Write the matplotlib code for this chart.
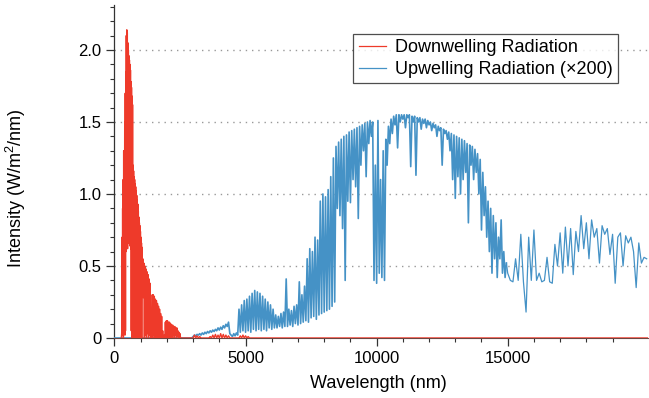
import numpy as np
import matplotlib
matplotlib.use('Agg')
import matplotlib.pyplot as plt
from matplotlib.ticker import MultipleLocator, FixedLocator

plt.rcParams['font.family'] = ['Liberation Sans', 'DejaVu Sans']
plt.rcParams['mathtext.fontset'] = 'custom'
plt.rcParams['mathtext.rm'] = 'Liberation Sans'

#colors
red = '#ee3a2a'
blue = '#4592c6'

#downwelling radiation, 10 nm steps from 260 nm
down_a = [0.0, 0.02, 0.05, 0.7, 0.02, 0.9, 0.05, 1.1, 0.0, 1.3,
          0.1, 0.75, 0.58, 1.5, 0.02, 1.7, 0.05, 1.85, 0.6, 2.1,
          0.65, 2.14, 0.7, 2.12, 0.62, 2.05, 0.7, 2.0, 0.66, 1.96,
          0.7, 1.93, 0.64, 1.9, 0.68, 1.86, 0.62, 1.78, 0.05, 1.74,
          0.0, 1.68, 0.02, 1.62, 0.0, 1.2, 0.03, 1.16, 0.0, 1.12,
          0.4, 1.1, 0.02, 1.07, 0.0, 1.05, 0.03, 1.02, 0.0, 0.99,
          0.02, 0.96, 0.0, 0.93, 0.05, 0.88, 0.0, 0.84, 0.02, 0.8,
          0.0, 0.78, 0.03, 0.74, 0.0, 0.7, 0.02, 0.66, 0.0, 0.63]
#20 nm steps from 1060 nm
down_b = [0.3, 0.55, 0.28, 0.52, 0.0, 0.5, 0.02, 0.48, 0.0, 0.46,
          0.03, 0.44, 0.0, 0.41, 0.02, 0.38, 0.0, 0.01, 0.0, 0.3,
          0.0, 0.3, 0.02, 0.29, 0.0, 0.27, 0.03, 0.26, 0.0, 0.24,
          0.12, 0.22, 0.0, 0.2, 0.02, 0.17, 0.0, 0.15, 0.0, 0.05,
          0.0, 0.01, 0.02, 0.0, 0.11, 0.0, 0.12, 0.02, 0.12, 0.0,
          0.11, 0.02, 0.11, 0.0, 0.1, 0.03, 0.09, 0.0, 0.09, 0.02,
          0.08, 0.0, 0.08, 0.02, 0.07, 0.0, 0.07, 0.01, 0.05, 0.0,
          0.04, 0.0, 0.03, 0.0, 0.0]
#50 nm steps from 2550 nm
down_c = [0.0, 0.0, 0.0, 0.0, 0.0, 0.0, 0.0, 0.0, 0.0, 0.0,
          0.02, 0.0, 0.015, 0.0, 0.01, 0.0, 0.0, 0.0, 0.0, 0.0,
          0.0, 0.0, 0.01, 0.0, 0.02, 0.0, 0.025, 0.0, 0.02, 0.0,
          0.03, 0.0, 0.025, 0.0, 0.02, 0.0, 0.015, 0.0, 0.0, 0.0,
          0.0, 0.0, 0.0, 0.0, 0.0, 0.015, 0.0, 0.02, 0.0, 0.015,
          0.0, 0.01, 0.0, 0.0, 0.0, 0.0, 0.0, 0.0, 0.0, 0.0]

#upwelling radiation (x200), 50 nm steps from 3000 nm
up_a = [0.01, 0.02, 0.015, 0.025, 0.02, 0.03, 0.02, 0.035, 0.025, 0.04,
        0.03, 0.045, 0.035, 0.05, 0.04, 0.055, 0.045, 0.06, 0.05, 0.07,
        0.055, 0.075, 0.06, 0.085, 0.07, 0.095, 0.08, 0.11, 0.03, 0.02,
        0.01, 0.03, 0.015, 0.035, 0.02, 0.2, 0.04, 0.23, 0.05, 0.26,
        0.04, 0.27, 0.05, 0.29, 0.04, 0.31, 0.06, 0.33, 0.05, 0.32,
        0.06, 0.31, 0.05, 0.29, 0.06, 0.27, 0.05, 0.25, 0.07, 0.23,
        0.06, 0.2, 0.07, 0.16, 0.07, 0.15, 0.08, 0.17, 0.07, 0.18,
        0.08, 0.41, 0.08, 0.2, 0.09, 0.19, 0.08, 0.22, 0.1, 0.23,
        0.09, 0.39, 0.1, 0.3, 0.11, 0.36, 0.12, 0.55, 0.11, 0.62,
        0.14, 0.6, 0.15, 0.7, 0.13, 0.68, 0.16, 0.95, 0.17, 1.0,
        0.18, 0.98, 0.19, 1.03, 0.2, 1.12, 0.22, 1.25, 0.25, 1.33,
        0.9, 1.36, 0.85, 1.38, 0.76, 1.4, 0.4, 1.41, 0.95, 1.43,
        0.94, 1.44, 1.1, 1.45, 1.05, 1.46, 0.83, 1.47, 1.2, 1.48,
        1.3, 1.49, 1.12, 1.5, 1.35, 1.51, 1.4, 1.5, 0.4, 1.2,
        0.38, 1.51, 0.45, 1.1, 0.42, 1.3, 0.4, 1.38, 1.2, 1.47,
        1.35, 1.52, 1.42, 1.54, 1.48, 1.55, 1.32, 1.55, 1.5, 1.55,
        1.52, 1.55, 1.46, 1.55, 1.53, 1.55, 1.19, 1.54, 1.5, 1.54,
        1.13, 1.53, 1.5, 1.53, 1.45, 1.52, 1.49, 1.52, 1.46, 1.51,
        1.48, 1.5, 1.44, 1.49, 1.46, 1.48, 1.4, 1.47, 1.44, 1.46,
        1.2, 1.45, 1.42, 1.44, 1.38, 1.43, 1.3, 1.42, 1.1, 1.41,
        0.97, 1.4, 1.12, 1.39, 1.0, 1.38, 1.1, 1.37, 1.15, 1.35,
        0.8, 1.34, 1.2, 1.33, 1.1, 1.31, 1.15, 1.28, 1.0, 1.24,
        0.75, 1.15, 0.85, 1.05, 0.7, 0.95, 0.6, 0.9, 0.45, 0.85,
        0.55, 0.8, 0.42, 0.7, 0.55, 0.82, 0.45, 0.6, 0.42, 0.52]
#100 nm steps from 15000 nm
up_b = [0.45, 0.4, 0.39, 0.55, 0.4, 0.72, 0.39, 0.18, 0.7, 0.4,
        0.75, 0.4, 0.45, 0.39, 0.4, 0.56, 0.39, 0.38, 0.65, 0.5,
        0.73, 0.45, 0.77, 0.5, 0.76, 0.44, 0.74, 0.6, 0.85, 0.62,
        0.8, 0.55, 0.82, 0.7, 0.76, 0.52, 0.78, 0.72, 0.76, 0.58,
        0.72, 0.38, 0.7, 0.73, 0.5, 0.71, 0.66, 0.7, 0.6, 0.35,
        0.66, 0.52, 0.56, 0.55]

#wavelength grids
down_wl = np.concatenate([260 + 10*np.arange(len(down_a)),
                          1060 + 20*np.arange(len(down_b)),
                          2550 + 50*np.arange(len(down_c)), [20400]])
down_val = np.concatenate([down_a, down_b, down_c, [0.0]])

up_wl = np.concatenate([[0, 2950], 3000 + 50*np.arange(len(up_a)),
                        15000 + 100*np.arange(len(up_b))])
up_val = np.concatenate([[0.0, 0.0], up_a, up_b])
n_dense = 2 + len(up_a)

fig = plt.figure(figsize=(6.49, 3.98), dpi=100)
ax = fig.add_axes([0.1764, 0.1508, 0.822, 0.8367])

#dense high resolution part a bit heavier, long wave tail thin
ax.plot(up_wl[:n_dense], up_val[:n_dense], color=blue, lw=1.2,
        label='Upwelling Radiation (\u00d7200)', zorder=3)
ax.plot(up_wl[n_dense-1:], up_val[n_dense-1:], color=blue, lw=0.9, zorder=3)
ax.plot(down_wl, down_val, color=red, lw=1.0, label='Downwelling Radiation', zorder=4)

ax.set_xlim(0, 20350)
ax.set_ylim(0, 2.3125)

#ticks
ax.set_xticks([0, 5000, 10000, 15000])
ax.set_xticklabels(['0', '5000', '10000', '15000'])
ax.xaxis.set_minor_locator(FixedLocator(np.arange(1000, 19500, 1000)))
ax.set_yticks([0, 0.5, 1.0, 1.5, 2.0])
ax.set_yticklabels(['0', '0.5', '1.0', '1.5', '2.0'])
ax.yaxis.set_minor_locator(MultipleLocator(0.1))
ax.tick_params(which='major', length=6, width=0.9, labelsize=12, color='#333333')
ax.tick_params(which='minor', length=3, width=0.8, color='#333333')

#grid
for v in [0.5, 1.0, 1.5, 2.0]:
    ax.axhline(v, color='#999999', lw=1, ls=(0, (1, 3.5)), zorder=1)

ax.spines['top'].set_visible(False)
ax.spines['right'].set_visible(False)
ax.spines['left'].set_color('#333333')
ax.spines['bottom'].set_color('#6e4540')
ax.spines['left'].set_linewidth(0.9)

ax.set_xlabel('Wavelength (nm)', fontsize=13)
ax.set_ylabel(r'Intensity (W/m$^{2}$/nm)', fontsize=13)
ax.xaxis.set_label_coords(0.494, -0.11)
ax.yaxis.set_label_coords(-0.162, 0.45)

handles, labels = ax.get_legend_handles_labels()
leg = ax.legend(handles[::-1], labels[::-1], loc='upper right', bbox_to_anchor=(0.944, 0.913),
                fontsize=13, frameon=True, fancybox=False, handlelength=1.5,
                handletextpad=0.5, labelspacing=0.25, borderpad=0.3, borderaxespad=0)
leg.get_frame().set_edgecolor('#222222')
leg.get_frame().set_linewidth(0.9)
for line in leg.get_lines():
    line.set_linewidth(0.9)

fig.savefig('out.png', dpi=100)
